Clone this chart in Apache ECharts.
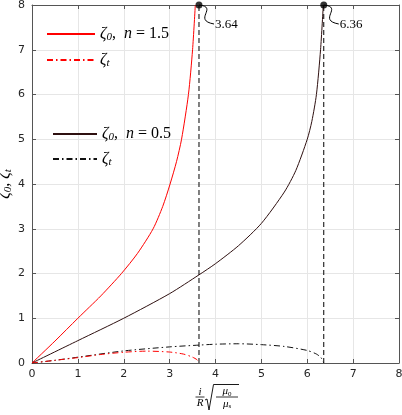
<!DOCTYPE html>
<html><head><meta charset="utf-8">
<script src="https://cdn.jsdelivr.net/npm/echarts@6/dist/echarts.min.js"></script>
<style>html,body{margin:0;padding:0;background:#fff}#c{width:402px;height:415px}</style>
</head><body><div id="c"></div>
<script>
// ---- data ----
const xTicks = [0, 1, 2, 3, 4, 5, 6, 7, 8];
const yTicks = [0, 1, 2, 3, 4, 5, 6, 7, 8];

// n = 1.5
const n15_x   = [0, 0.5, 1, 1.5, 1.95, 2.3, 2.64, 2.85, 3.01, 3.15, 3.26, 3.41, 3.5, 3.56];
const n15_z0  = [0, 0.49, 1.0, 1.5, 2.0, 2.45, 3.0, 3.5, 4.0, 4.5, 5.0, 6.0, 7.0, 8.0];
const n15_tx  = [0, 0.5, 1, 1.5, 2, 2.5, 3, 3.3, 3.5, 3.6, 3.64];
const n15_zt  = [0, 0.06, 0.12, 0.19, 0.24, 0.265, 0.245, 0.2, 0.13, 0.07, 0];

// n = 0.5
const n05_x   = [0, 1, 2, 3, 3.64, 4, 4.5, 5, 5.5, 5.75, 6, 6.1, 6.2, 6.29, 6.35];
const n05_z0  = [0, 0.5, 1.0, 1.55, 1.97, 2.22, 2.62, 3.12, 3.82, 4.3, 5.0, 5.4, 6.0, 7.0, 8.0];
const n05_tx  = [0, 0.5, 1, 2, 3, 3.64, 4, 4.5, 5, 5.5, 6, 6.2, 6.3, 6.36];
const n05_zt  = [0, 0.06, 0.13, 0.27, 0.36, 0.40, 0.42, 0.43, 0.41, 0.37, 0.28, 0.2, 0.12, 0];

// asymptotes
const asymX = [3.64, 6.36];
const asymTop = 8;
const asymLabels = ['3.64', '6.36'];

const legendLabels = {
  z0_15: '{g|ζ}{sub|0}{t|,  }{g|n}{t| = 1.5}',
  zt_15: '{g|ζ}{sub|t}',
  z0_05: '{g|ζ}{sub|0}{t|,  }{g|n}{t| = 0.5}',
  zt_05: '{g|ζ}{sub|t}'
};

const zip = (a, b) => a.map((v, i) => [v, b[i]]);
const SERIF = 'Liberation Serif';
const richStyle = {
  g:   {fontFamily: SERIF, fontStyle: 'italic', fontSize: 16, lineHeight: 18, color: '#000'},
  t:   {fontFamily: SERIF, fontSize: 16, lineHeight: 18, color: '#000'},
  sub: {fontFamily: SERIF, fontStyle: 'italic', fontSize: 11, lineHeight: 10, verticalAlign: 'bottom', color: '#000'}
};

const chart = echarts.init(document.getElementById('c'));
const DASHDOT = [6, 3, 1.5, 3];
const SMOOTH = 0.25;
const axisCommon = {
  type: 'value', min: 0, max: 8, interval: 1,
  axisLine: {show: true, onZero: false, lineStyle: {color: '#555', width: 1}},
  axisTick: {show: true, inside: true, length: 4, lineStyle: {color: '#555'}},
};
const legendCommon = {
  orient: 'vertical', itemHeight: 14, padding: 0, selectedMode: false,
  formatter: n => legendLabels[n], textStyle: {rich: richStyle},
  itemStyle: {opacity: 0}
};
const option = {
  animation: false,
  backgroundColor: '#fff',
  grid: {left: 32, right: 3, top: 5, bottom: 52, containLabel: false, outerBoundsMode: 'none'},
  xAxis: [
    Object.assign({}, axisCommon, {
      position: 'bottom',
      axisLabel: {color: '#262626', fontFamily: 'DejaVu Sans', fontSize: 11, margin: 6},
      splitLine: {show: true, lineStyle: {color: '#e6e6e6'}}
    }),
    Object.assign({}, axisCommon, {position: 'top', axisLabel: {show: false}, splitLine: {show: false}})
  ],
  yAxis: [
    Object.assign({}, axisCommon, {
      position: 'left',
      axisLabel: {color: '#262626', fontFamily: 'DejaVu Sans', fontSize: 11, margin: 7},
      splitLine: {show: true, lineStyle: {color: '#e6e6e6'}},
      name: '{g|ζ}{sub|0}{t|, }{g|ζ}{sub|t}',
      nameLocation: 'middle', nameRotate: 90, nameGap: 18, nameMoveOverlap: false,
      nameTextStyle: {rich: richStyle}
    }),
    Object.assign({}, axisCommon, {position: 'right', axisLabel: {show: false}, splitLine: {show: false}})
  ],
  legend: [
    Object.assign({}, legendCommon, {data: ['z0_15', 'zt_15'], left: 46, top: 26, itemWidth: 48, itemGap: 9}),
    Object.assign({}, legendCommon, {data: ['z0_05', 'zt_05'], left: 52, top: 126, itemWidth: 44, itemGap: 8})
  ],
  series: [
    {name: 'z0_15', type: 'line', data: zip(n15_x, n15_z0), symbol: 'none', smooth: SMOOTH,
     lineStyle: {color: '#ff0000', width: 1}, itemStyle: {color: '#ff0000'}, z: 5},
    {name: 'zt_15', type: 'line', data: zip(n15_tx, n15_zt), symbol: 'none', smooth: SMOOTH,
     lineStyle: {color: '#ff0000', width: 1, type: DASHDOT}, itemStyle: {color: '#ff0000'}, z: 5},
    {name: 'z0_05', type: 'line', data: zip(n05_x, n05_z0), symbol: 'none', smooth: SMOOTH,
     lineStyle: {color: '#2e1010', width: 1}, itemStyle: {color: '#2e1010'}, z: 4},
    {name: 'zt_05', type: 'line', data: zip(n05_tx, n05_zt), symbol: 'none', smooth: SMOOTH,
     lineStyle: {color: '#111', width: 1, type: DASHDOT}, itemStyle: {color: '#111'}, z: 4},
  ].concat(asymX.map((x, i) => ({
    name: 'asym' + i, type: 'line', data: [[x, 0], [x, asymTop]], symbol: 'none',
    lineStyle: {color: '#000', width: 1, type: [5, 3]}, z: 3
  }))).concat([{
    name: 'dots', type: 'scatter', data: asymX.map(x => [x, asymTop]), symbolSize: 7,
    itemStyle: {color: '#000'}, clip: false, z: 10
  }])
};
chart.setOption(option);

// annotations and x-axis label built as graphics
const g = [];
asymX.forEach((x, i) => {
  const p = chart.convertToPixel({gridIndex: 0}, [x, asymTop]);
  g.push({
    type: 'bezierCurve', silent: true, z: 20,
    shape: {x1: p[0], y1: p[1], cpx1: p[0] + 20, cpy1: p[1] + 2, cpx2: p[0] - 7, cpy2: p[1] + 15, x2: p[0] + 15, y2: p[1] + 19},
    style: {stroke: '#000', lineWidth: 1, fill: null}
  });
  g.push({
    type: 'text', z: 20, x: p[0] + 16, y: p[1] + 20,
    style: {text: asymLabels[i], fontFamily: SERIF, fontSize: 13, fill: '#000', align: 'left', verticalAlign: 'middle'}
  });
});
// x-axis label: (i/R) * sqrt(mu0/mus)
const lx = 200, ly = 397;
const muRich = {m: {fontFamily: SERIF, fontStyle: 'italic', fontSize: 11, lineHeight: 12, fill: '#000'}, s: {fontFamily: SERIF, fontSize: 7, lineHeight: 7, verticalAlign: 'bottom', fill: '#000'}};
g.push({type: 'text', x: lx, y: ly - 5, style: {text: 'i', fontFamily: SERIF, fontStyle: 'italic', fontSize: 11, fill: '#000', align: 'center', verticalAlign: 'middle'}});
g.push({type: 'line', shape: {x1: lx - 4.5, y1: ly, x2: lx + 4.5, y2: ly}, style: {stroke: '#000', lineWidth: 0.8}});
g.push({type: 'text', x: lx, y: ly + 6.5, style: {text: 'R', fontFamily: SERIF, fontStyle: 'italic', fontSize: 11, fill: '#000', align: 'center', verticalAlign: 'middle'}});
g.push({type: 'polyline', shape: {points: [[lx + 5, ly + 3], [lx + 7, ly + 2], [lx + 9, ly + 13], [lx + 13.5, ly - 12.5], [lx + 39, ly - 12.5]]},
        style: {stroke: '#000', lineWidth: 0.9, fill: null}});
g.push({type: 'text', x: lx + 27, y: ly - 5.5, style: {text: '{m|μ}{s|0}', rich: muRich, align: 'center', verticalAlign: 'middle'}});
g.push({type: 'line', shape: {x1: lx + 16, y1: ly, x2: lx + 38, y2: ly}, style: {stroke: '#000', lineWidth: 0.8}});
g.push({type: 'text', x: lx + 27, y: ly + 7, style: {text: '{m|μ}{s|s}', rich: muRich, align: 'center', verticalAlign: 'middle'}});
chart.setOption({graphic: g});
</script>
</body></html>
